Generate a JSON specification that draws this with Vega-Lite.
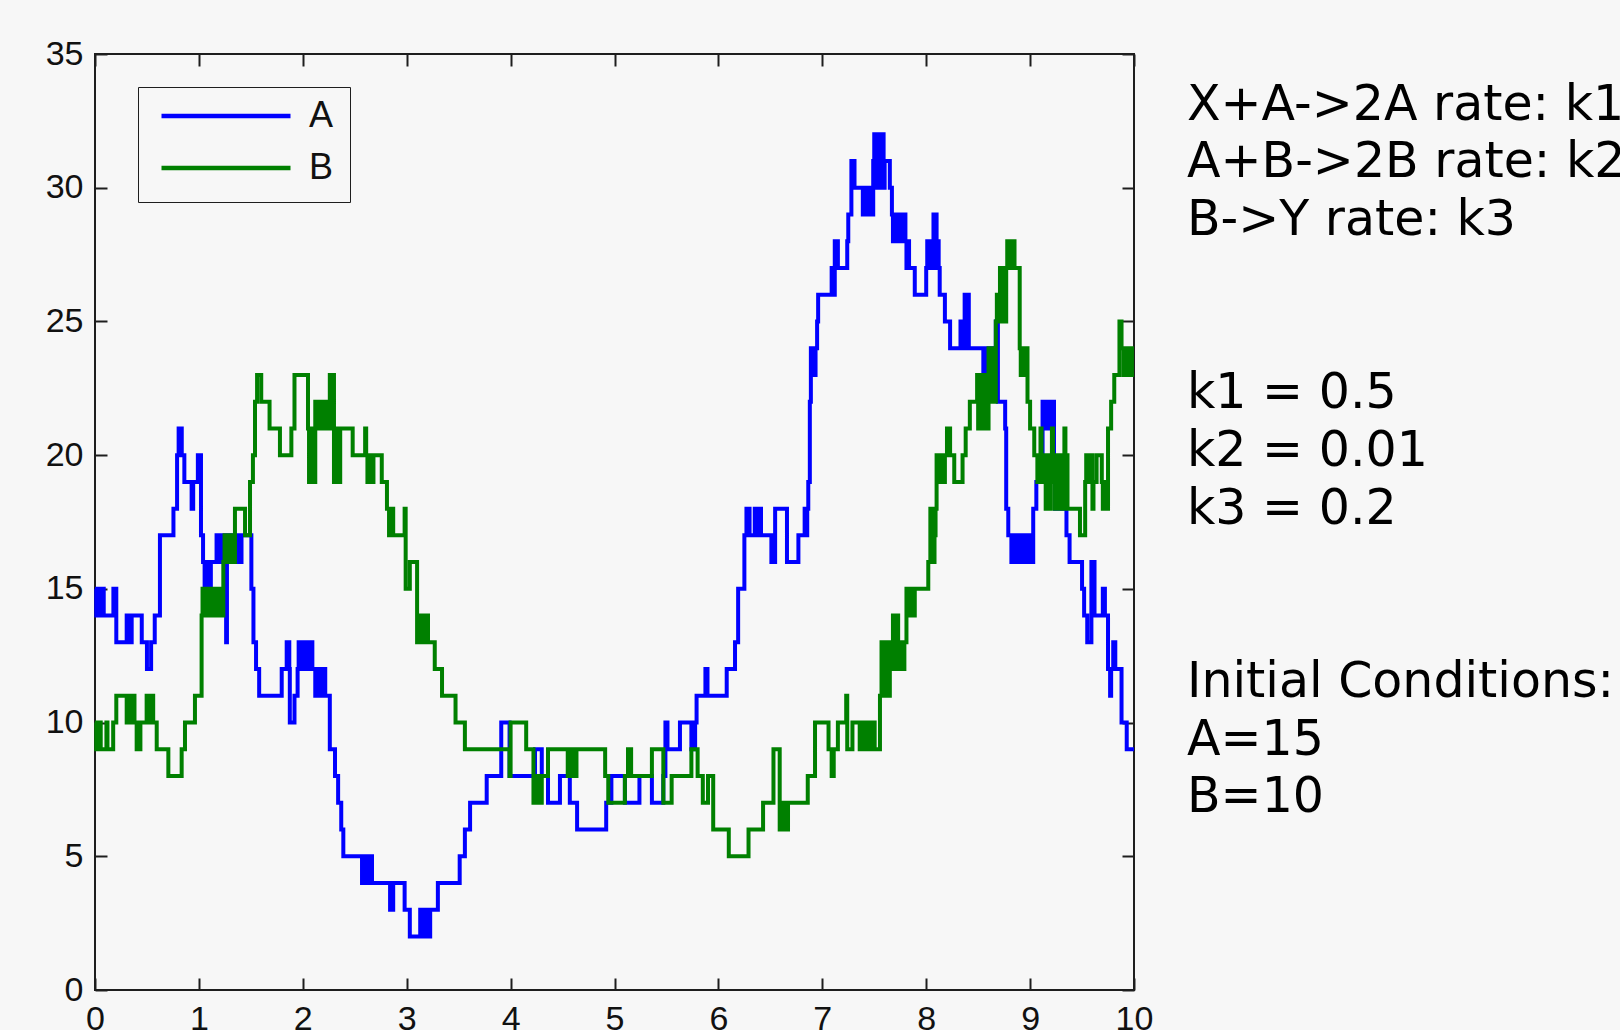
{
"$schema": "https://vega.github.io/schema/vega-lite/v6.json",
"width": 1039, "height": 936,
"autosize": {"type": "none"},
"padding": {"left": 95, "top": 54, "right": 486, "bottom": 40},
"background": "#f7f7f7",
"config": {
  "view": {"stroke": "#1e1e1e", "strokeWidth": 2, "fill": "#f7f7f7"},
  "axis": {"grid": false, "domain": false, "tickSize": -12, "tickWidth": 2, "tickColor": "#1e1e1e", "labelFont": "Liberation Sans, Arial, sans-serif", "labelFontSize": 34, "labelColor": "#111111", "labelPadding": 24, "labelFlush": false, "labelOverlap": false, "title": null}
},
"datasets": {
"A": [{"t":0,"v":15},{"t":0.012,"v":14},{"t":0.024,"v":15},{"t":0.036,"v":14},{"t":0.048,"v":15},{"t":0.06,"v":14},{"t":0.072,"v":15},{"t":0.084,"v":14},{"t":0.177,"v":15},{"t":0.205,"v":13},{"t":0.305,"v":14},{"t":0.317,"v":13},{"t":0.329,"v":14},{"t":0.341,"v":13},{"t":0.353,"v":14},{"t":0.45,"v":13},{"t":0.5,"v":12},{"t":0.54,"v":13},{"t":0.575,"v":14},{"t":0.625,"v":17},{"t":0.755,"v":18},{"t":0.79,"v":20},{"t":0.805,"v":21},{"t":0.815,"v":20},{"t":0.825,"v":21},{"t":0.835,"v":20},{"t":0.86,"v":19},{"t":0.93,"v":18},{"t":0.945,"v":19},{"t":0.99,"v":20},{"t":1.02,"v":17},{"t":1.04,"v":16},{"t":1.055,"v":15},{"t":1.067,"v":16},{"t":1.079,"v":15},{"t":1.091,"v":16},{"t":1.103,"v":15},{"t":1.115,"v":16},{"t":1.17,"v":17},{"t":1.182,"v":16},{"t":1.194,"v":17},{"t":1.206,"v":16},{"t":1.218,"v":17},{"t":1.23,"v":16},{"t":1.242,"v":17},{"t":1.254,"v":16},{"t":1.262,"v":13},{"t":1.27,"v":16},{"t":1.282,"v":17},{"t":1.294,"v":16},{"t":1.306,"v":17},{"t":1.318,"v":16},{"t":1.33,"v":17},{"t":1.342,"v":16},{"t":1.354,"v":17},{"t":1.366,"v":16},{"t":1.378,"v":17},{"t":1.39,"v":16},{"t":1.41,"v":17},{"t":1.505,"v":15},{"t":1.525,"v":13},{"t":1.55,"v":12},{"t":1.58,"v":11},{"t":1.797,"v":12},{"t":1.845,"v":13},{"t":1.87,"v":12},{"t":1.875,"v":10},{"t":1.92,"v":11},{"t":1.95,"v":12},{"t":1.96,"v":13},{"t":1.972,"v":12},{"t":1.984,"v":13},{"t":1.996,"v":12},{"t":2.008,"v":13},{"t":2.02,"v":12},{"t":2.032,"v":13},{"t":2.044,"v":12},{"t":2.056,"v":13},{"t":2.068,"v":12},{"t":2.08,"v":13},{"t":2.092,"v":12},{"t":2.12,"v":11},{"t":2.132,"v":12},{"t":2.144,"v":11},{"t":2.156,"v":12},{"t":2.168,"v":11},{"t":2.18,"v":12},{"t":2.192,"v":11},{"t":2.204,"v":12},{"t":2.216,"v":11},{"t":2.26,"v":9},{"t":2.31,"v":8},{"t":2.34,"v":7},{"t":2.37,"v":6},{"t":2.39,"v":5},{"t":2.57,"v":4},{"t":2.582,"v":5},{"t":2.594,"v":4},{"t":2.606,"v":5},{"t":2.618,"v":4},{"t":2.63,"v":5},{"t":2.642,"v":4},{"t":2.654,"v":5},{"t":2.666,"v":4},{"t":2.84,"v":3},{"t":2.87,"v":4},{"t":2.98,"v":3},{"t":3.03,"v":2},{"t":3.13,"v":3},{"t":3.142,"v":2},{"t":3.154,"v":3},{"t":3.166,"v":2},{"t":3.178,"v":3},{"t":3.19,"v":2},{"t":3.202,"v":3},{"t":3.214,"v":2},{"t":3.226,"v":3},{"t":3.3,"v":4},{"t":3.51,"v":5},{"t":3.56,"v":6},{"t":3.61,"v":7},{"t":3.77,"v":8},{"t":3.91,"v":10},{"t":3.99,"v":8},{"t":4.235,"v":9},{"t":4.3,"v":8},{"t":4.36,"v":7},{"t":4.475,"v":8},{"t":4.57,"v":7},{"t":4.64,"v":6},{"t":4.92,"v":7},{"t":4.97,"v":8},{"t":5.1,"v":7},{"t":5.24,"v":8},{"t":5.36,"v":7},{"t":5.47,"v":8},{"t":5.49,"v":10},{"t":5.51,"v":9},{"t":5.63,"v":10},{"t":5.74,"v":9},{"t":5.752,"v":10},{"t":5.764,"v":9},{"t":5.776,"v":10},{"t":5.79,"v":11},{"t":5.875,"v":12},{"t":5.895,"v":11},{"t":6.08,"v":12},{"t":6.16,"v":13},{"t":6.19,"v":15},{"t":6.25,"v":17},{"t":6.27,"v":18},{"t":6.3,"v":17},{"t":6.35,"v":18},{"t":6.362,"v":17},{"t":6.374,"v":18},{"t":6.386,"v":17},{"t":6.4,"v":18},{"t":6.41,"v":17},{"t":6.51,"v":16},{"t":6.522,"v":17},{"t":6.534,"v":16},{"t":6.546,"v":18},{"t":6.66,"v":16},{"t":6.77,"v":17},{"t":6.83,"v":18},{"t":6.845,"v":17},{"t":6.855,"v":18},{"t":6.865,"v":19},{"t":6.88,"v":22},{"t":6.89,"v":24},{"t":6.9,"v":23},{"t":6.91,"v":24},{"t":6.92,"v":23},{"t":6.935,"v":24},{"t":6.95,"v":25},{"t":6.96,"v":26},{"t":7.09,"v":27},{"t":7.1,"v":26},{"t":7.12,"v":28},{"t":7.13,"v":27},{"t":7.14,"v":28},{"t":7.15,"v":27},{"t":7.24,"v":28},{"t":7.25,"v":29},{"t":7.28,"v":31},{"t":7.31,"v":30},{"t":7.39,"v":29},{"t":7.4,"v":30},{"t":7.41,"v":29},{"t":7.42,"v":30},{"t":7.43,"v":29},{"t":7.44,"v":30},{"t":7.45,"v":29},{"t":7.46,"v":30},{"t":7.47,"v":29},{"t":7.49,"v":31},{"t":7.5,"v":32},{"t":7.51,"v":30},{"t":7.52,"v":32},{"t":7.53,"v":31},{"t":7.54,"v":32},{"t":7.55,"v":30},{"t":7.56,"v":32},{"t":7.57,"v":31},{"t":7.58,"v":32},{"t":7.59,"v":30},{"t":7.6,"v":31},{"t":7.65,"v":30},{"t":7.67,"v":29},{"t":7.68,"v":28},{"t":7.69,"v":29},{"t":7.7,"v":28},{"t":7.71,"v":29},{"t":7.72,"v":28},{"t":7.73,"v":29},{"t":7.74,"v":28},{"t":7.75,"v":29},{"t":7.76,"v":28},{"t":7.77,"v":29},{"t":7.78,"v":28},{"t":7.79,"v":29},{"t":7.8,"v":28},{"t":7.81,"v":27},{"t":7.825,"v":28},{"t":7.835,"v":27},{"t":7.89,"v":26},{"t":8.0,"v":27},{"t":8.01,"v":28},{"t":8.02,"v":27},{"t":8.03,"v":28},{"t":8.04,"v":27},{"t":8.05,"v":28},{"t":8.06,"v":27},{"t":8.07,"v":29},{"t":8.08,"v":28},{"t":8.09,"v":29},{"t":8.1,"v":27},{"t":8.11,"v":28},{"t":8.12,"v":27},{"t":8.13,"v":26},{"t":8.18,"v":25},{"t":8.23,"v":24},{"t":8.33,"v":25},{"t":8.34,"v":24},{"t":8.35,"v":25},{"t":8.36,"v":24},{"t":8.37,"v":26},{"t":8.38,"v":24},{"t":8.39,"v":25},{"t":8.4,"v":26},{"t":8.41,"v":24},{"t":8.55,"v":23},{"t":8.56,"v":24},{"t":8.57,"v":23},{"t":8.58,"v":24},{"t":8.59,"v":23},{"t":8.6,"v":24},{"t":8.61,"v":23},{"t":8.62,"v":24},{"t":8.63,"v":23},{"t":8.64,"v":24},{"t":8.65,"v":23},{"t":8.66,"v":24},{"t":8.67,"v":25},{"t":8.69,"v":22},{"t":8.76,"v":21},{"t":8.77,"v":18},{"t":8.79,"v":17},{"t":8.82,"v":16},{"t":8.835,"v":17},{"t":8.85,"v":16},{"t":8.865,"v":17},{"t":8.88,"v":16},{"t":8.895,"v":17},{"t":8.91,"v":16},{"t":8.925,"v":17},{"t":8.94,"v":16},{"t":8.955,"v":17},{"t":8.97,"v":16},{"t":8.985,"v":17},{"t":9.0,"v":16},{"t":9.03,"v":18},{"t":9.06,"v":19},{"t":9.12,"v":22},{"t":9.13,"v":21},{"t":9.14,"v":22},{"t":9.15,"v":21},{"t":9.16,"v":22},{"t":9.17,"v":21},{"t":9.18,"v":22},{"t":9.19,"v":21},{"t":9.2,"v":22},{"t":9.23,"v":19},{"t":9.24,"v":18},{"t":9.255,"v":19},{"t":9.27,"v":18},{"t":9.285,"v":19},{"t":9.3,"v":18},{"t":9.315,"v":19},{"t":9.335,"v":18},{"t":9.35,"v":17},{"t":9.38,"v":16},{"t":9.5,"v":15},{"t":9.52,"v":14},{"t":9.55,"v":13},{"t":9.59,"v":16},{"t":9.62,"v":14},{"t":9.7,"v":15},{"t":9.72,"v":14},{"t":9.75,"v":12},{"t":9.77,"v":11},{"t":9.78,"v":12},{"t":9.8,"v":13},{"t":9.82,"v":12},{"t":9.88,"v":10},{"t":9.93,"v":9},{"t":10,"v":9}],
"B": [{"t":0,"v":10},{"t":0.012,"v":9},{"t":0.045,"v":10},{"t":0.055,"v":9},{"t":0.11,"v":10},{"t":0.12,"v":9},{"t":0.175,"v":10},{"t":0.205,"v":11},{"t":0.305,"v":10},{"t":0.317,"v":11},{"t":0.329,"v":10},{"t":0.341,"v":11},{"t":0.353,"v":10},{"t":0.365,"v":11},{"t":0.38,"v":10},{"t":0.401,"v":9},{"t":0.413,"v":10},{"t":0.425,"v":9},{"t":0.437,"v":10},{"t":0.497,"v":11},{"t":0.509,"v":10},{"t":0.521,"v":11},{"t":0.533,"v":10},{"t":0.545,"v":11},{"t":0.56,"v":10},{"t":0.594,"v":9},{"t":0.706,"v":8},{"t":0.834,"v":9},{"t":0.866,"v":10},{"t":0.962,"v":11},{"t":1.026,"v":14},{"t":1.035,"v":15},{"t":1.047,"v":14},{"t":1.059,"v":15},{"t":1.071,"v":14},{"t":1.083,"v":15},{"t":1.095,"v":14},{"t":1.107,"v":15},{"t":1.119,"v":14},{"t":1.131,"v":15},{"t":1.143,"v":14},{"t":1.155,"v":15},{"t":1.167,"v":14},{"t":1.179,"v":15},{"t":1.191,"v":14},{"t":1.203,"v":15},{"t":1.215,"v":14},{"t":1.235,"v":16},{"t":1.247,"v":17},{"t":1.259,"v":16},{"t":1.271,"v":17},{"t":1.283,"v":16},{"t":1.295,"v":17},{"t":1.307,"v":16},{"t":1.319,"v":17},{"t":1.331,"v":16},{"t":1.347,"v":18},{"t":1.444,"v":17},{"t":1.492,"v":19},{"t":1.52,"v":20},{"t":1.54,"v":22},{"t":1.56,"v":23},{"t":1.6,"v":22},{"t":1.68,"v":21},{"t":1.78,"v":20},{"t":1.89,"v":21},{"t":1.92,"v":23},{"t":2.05,"v":21},{"t":2.06,"v":19},{"t":2.072,"v":21},{"t":2.084,"v":19},{"t":2.096,"v":21},{"t":2.108,"v":19},{"t":2.12,"v":22},{"t":2.132,"v":21},{"t":2.144,"v":22},{"t":2.156,"v":21},{"t":2.168,"v":22},{"t":2.18,"v":21},{"t":2.192,"v":22},{"t":2.204,"v":21},{"t":2.216,"v":22},{"t":2.228,"v":21},{"t":2.24,"v":22},{"t":2.26,"v":23},{"t":2.275,"v":21},{"t":2.29,"v":23},{"t":2.3,"v":19},{"t":2.312,"v":21},{"t":2.324,"v":19},{"t":2.336,"v":21},{"t":2.348,"v":19},{"t":2.36,"v":21},{"t":2.48,"v":20},{"t":2.6,"v":21},{"t":2.61,"v":20},{"t":2.622,"v":19},{"t":2.634,"v":20},{"t":2.646,"v":19},{"t":2.658,"v":20},{"t":2.67,"v":19},{"t":2.68,"v":20},{"t":2.76,"v":19},{"t":2.81,"v":18},{"t":2.83,"v":17},{"t":2.84,"v":18},{"t":2.85,"v":17},{"t":2.86,"v":18},{"t":2.87,"v":17},{"t":2.98,"v":18},{"t":2.99,"v":15},{"t":3.03,"v":16},{"t":3.1,"v":13},{"t":3.12,"v":14},{"t":3.13,"v":13},{"t":3.14,"v":14},{"t":3.15,"v":13},{"t":3.16,"v":14},{"t":3.17,"v":13},{"t":3.19,"v":14},{"t":3.205,"v":13},{"t":3.27,"v":12},{"t":3.34,"v":11},{"t":3.47,"v":10},{"t":3.56,"v":9},{"t":3.99,"v":8},{"t":4.0,"v":10},{"t":4.15,"v":9},{"t":4.22,"v":7},{"t":4.25,"v":8},{"t":4.262,"v":7},{"t":4.274,"v":8},{"t":4.286,"v":7},{"t":4.3,"v":8},{"t":4.36,"v":9},{"t":4.55,"v":8},{"t":4.562,"v":9},{"t":4.574,"v":8},{"t":4.586,"v":9},{"t":4.598,"v":8},{"t":4.61,"v":9},{"t":4.622,"v":8},{"t":4.634,"v":9},{"t":4.91,"v":8},{"t":4.94,"v":7},{"t":5.1,"v":8},{"t":5.13,"v":9},{"t":5.16,"v":8},{"t":5.36,"v":9},{"t":5.47,"v":7},{"t":5.55,"v":8},{"t":5.74,"v":9},{"t":5.8,"v":8},{"t":5.85,"v":7},{"t":5.9,"v":8},{"t":5.95,"v":6},{"t":6.1,"v":5},{"t":6.29,"v":6},{"t":6.43,"v":7},{"t":6.53,"v":9},{"t":6.59,"v":6},{"t":6.6,"v":7},{"t":6.612,"v":6},{"t":6.624,"v":7},{"t":6.636,"v":6},{"t":6.648,"v":7},{"t":6.66,"v":6},{"t":6.67,"v":7},{"t":6.86,"v":8},{"t":6.93,"v":10},{"t":7.06,"v":9},{"t":7.09,"v":8},{"t":7.11,"v":9},{"t":7.15,"v":10},{"t":7.23,"v":11},{"t":7.24,"v":9},{"t":7.29,"v":10},{"t":7.36,"v":9},{"t":7.372,"v":10},{"t":7.384,"v":9},{"t":7.396,"v":10},{"t":7.408,"v":9},{"t":7.42,"v":10},{"t":7.432,"v":9},{"t":7.444,"v":10},{"t":7.456,"v":9},{"t":7.468,"v":10},{"t":7.48,"v":9},{"t":7.492,"v":10},{"t":7.504,"v":9},{"t":7.555,"v":11},{"t":7.57,"v":13},{"t":7.58,"v":12},{"t":7.59,"v":13},{"t":7.6,"v":11},{"t":7.61,"v":12},{"t":7.62,"v":13},{"t":7.63,"v":12},{"t":7.64,"v":11},{"t":7.65,"v":12},{"t":7.66,"v":13},{"t":7.67,"v":12},{"t":7.68,"v":14},{"t":7.69,"v":12},{"t":7.7,"v":14},{"t":7.71,"v":13},{"t":7.72,"v":14},{"t":7.73,"v":12},{"t":7.745,"v":13},{"t":7.76,"v":12},{"t":7.77,"v":13},{"t":7.78,"v":12},{"t":7.79,"v":13},{"t":7.81,"v":15},{"t":7.82,"v":14},{"t":7.83,"v":15},{"t":7.84,"v":14},{"t":7.85,"v":15},{"t":7.86,"v":14},{"t":7.87,"v":15},{"t":7.88,"v":14},{"t":7.89,"v":15},{"t":8.02,"v":16},{"t":8.04,"v":18},{"t":8.05,"v":17},{"t":8.06,"v":18},{"t":8.07,"v":16},{"t":8.08,"v":17},{"t":8.09,"v":18},{"t":8.1,"v":20},{"t":8.11,"v":19},{"t":8.12,"v":20},{"t":8.13,"v":19},{"t":8.14,"v":20},{"t":8.15,"v":19},{"t":8.16,"v":20},{"t":8.17,"v":19},{"t":8.18,"v":20},{"t":8.2,"v":21},{"t":8.23,"v":20},{"t":8.27,"v":19},{"t":8.35,"v":20},{"t":8.38,"v":21},{"t":8.42,"v":22},{"t":8.49,"v":23},{"t":8.5,"v":21},{"t":8.51,"v":23},{"t":8.52,"v":22},{"t":8.53,"v":21},{"t":8.54,"v":23},{"t":8.55,"v":21},{"t":8.56,"v":22},{"t":8.57,"v":23},{"t":8.58,"v":21},{"t":8.6,"v":24},{"t":8.61,"v":22},{"t":8.62,"v":24},{"t":8.63,"v":23},{"t":8.64,"v":22},{"t":8.65,"v":24},{"t":8.66,"v":22},{"t":8.67,"v":25},{"t":8.68,"v":26},{"t":8.69,"v":25},{"t":8.7,"v":26},{"t":8.71,"v":27},{"t":8.72,"v":25},{"t":8.73,"v":27},{"t":8.74,"v":26},{"t":8.75,"v":27},{"t":8.76,"v":25},{"t":8.77,"v":27},{"t":8.78,"v":28},{"t":8.79,"v":27},{"t":8.8,"v":28},{"t":8.81,"v":27},{"t":8.82,"v":28},{"t":8.83,"v":27},{"t":8.84,"v":28},{"t":8.85,"v":27},{"t":8.9,"v":24},{"t":8.91,"v":23},{"t":8.92,"v":24},{"t":8.93,"v":23},{"t":8.94,"v":24},{"t":8.95,"v":23},{"t":8.96,"v":24},{"t":8.975,"v":22},{"t":9.0,"v":21},{"t":9.04,"v":20},{"t":9.07,"v":19},{"t":9.08,"v":20},{"t":9.09,"v":19},{"t":9.1,"v":21},{"t":9.11,"v":19},{"t":9.12,"v":20},{"t":9.13,"v":19},{"t":9.14,"v":20},{"t":9.15,"v":18},{"t":9.16,"v":20},{"t":9.17,"v":19},{"t":9.18,"v":20},{"t":9.19,"v":18},{"t":9.2,"v":20},{"t":9.21,"v":21},{"t":9.22,"v":19},{"t":9.23,"v":20},{"t":9.24,"v":18},{"t":9.25,"v":20},{"t":9.26,"v":19},{"t":9.27,"v":20},{"t":9.28,"v":18},{"t":9.29,"v":20},{"t":9.3,"v":19},{"t":9.31,"v":20},{"t":9.32,"v":18},{"t":9.33,"v":21},{"t":9.34,"v":19},{"t":9.35,"v":20},{"t":9.36,"v":18},{"t":9.48,"v":17},{"t":9.53,"v":19},{"t":9.54,"v":20},{"t":9.55,"v":19},{"t":9.56,"v":20},{"t":9.57,"v":19},{"t":9.58,"v":20},{"t":9.6,"v":18},{"t":9.61,"v":19},{"t":9.64,"v":20},{"t":9.69,"v":19},{"t":9.7,"v":18},{"t":9.71,"v":19},{"t":9.72,"v":18},{"t":9.73,"v":19},{"t":9.74,"v":18},{"t":9.75,"v":21},{"t":9.78,"v":22},{"t":9.81,"v":23},{"t":9.86,"v":25},{"t":9.88,"v":24},{"t":9.9,"v":23},{"t":9.91,"v":24},{"t":9.92,"v":23},{"t":9.93,"v":24},{"t":9.94,"v":23},{"t":9.95,"v":24},{"t":9.96,"v":23},{"t":9.97,"v":24},{"t":9.98,"v":23},{"t":10,"v":23}],
"notes": [
  {"t": 10.51, "v": 32.54, "lines": ["X+A->2A rate: k1", "A+B->2B rate: k2", "B->Y rate: k3"]},
  {"t": 10.51, "v": 21.75, "lines": ["k1 = 0.5", "k2 = 0.01", "k3 = 0.2"]},
  {"t": 10.51, "v": 10.96, "lines": ["Initial Conditions:", "A=15", "B=10"]}
]
},
"layer": [
  {"data": {"name": "A"},
   "mark": {"type": "line", "interpolate": "step-after", "strokeWidth": 4},
   "encoding": {
     "x": {"field": "t", "type": "quantitative", "scale": {"domain": [0, 10], "nice": false, "zero": false}, "axis": {"orient": "bottom", "values": [0,1,2,3,4,5,6,7,8,9,10]}},
     "y": {"field": "v", "type": "quantitative", "scale": {"domain": [0, 35], "nice": false}, "axis": {"orient": "left", "values": [0,5,10,15,20,25,30,35]}},
     "color": {"datum": "A", "type": "nominal", "scale": {"domain": ["A", "B"], "range": ["#0000ff", "#008000"]},
       "legend": {"orient": "none", "legendX": 43, "legendY": 33, "title": null, "symbolType": "stroke", "symbolSize": 16641, "symbolStrokeWidth": 4.5, "symbolOffset": 5, "labelFont": "Liberation Sans, Arial, sans-serif", "labelFontSize": 36, "labelColor": "#111111", "labelOffset": 16, "padding": 16, "rowPadding": 16, "clipHeight": 26, "strokeColor": "#1e1e1e", "fillColor": "#f7f7f7"}}
   }},
  {"data": {"name": "B"},
   "mark": {"type": "line", "interpolate": "step-after", "strokeWidth": 4},
   "encoding": {
     "x": {"field": "t", "type": "quantitative", "axis": {"orient": "top", "labels": false, "values": [0,1,2,3,4,5,6,7,8,9,10]}},
     "y": {"field": "v", "type": "quantitative", "axis": {"orient": "right", "labels": false, "values": [0,5,10,15,20,25,30,35]}},
     "color": {"datum": "B", "type": "nominal"}
   }},
  {"data": {"name": "notes"},
   "mark": {"type": "text", "align": "left", "baseline": "alphabetic", "font": "DejaVu Sans", "fontSize": 49, "lineHeight": 57.7, "color": "#000000", "clip": false},
   "encoding": {
     "x": {"field": "t", "type": "quantitative", "axis": null},
     "y": {"field": "v", "type": "quantitative", "axis": null},
     "text": {"field": "lines"}
   }}
]
}
